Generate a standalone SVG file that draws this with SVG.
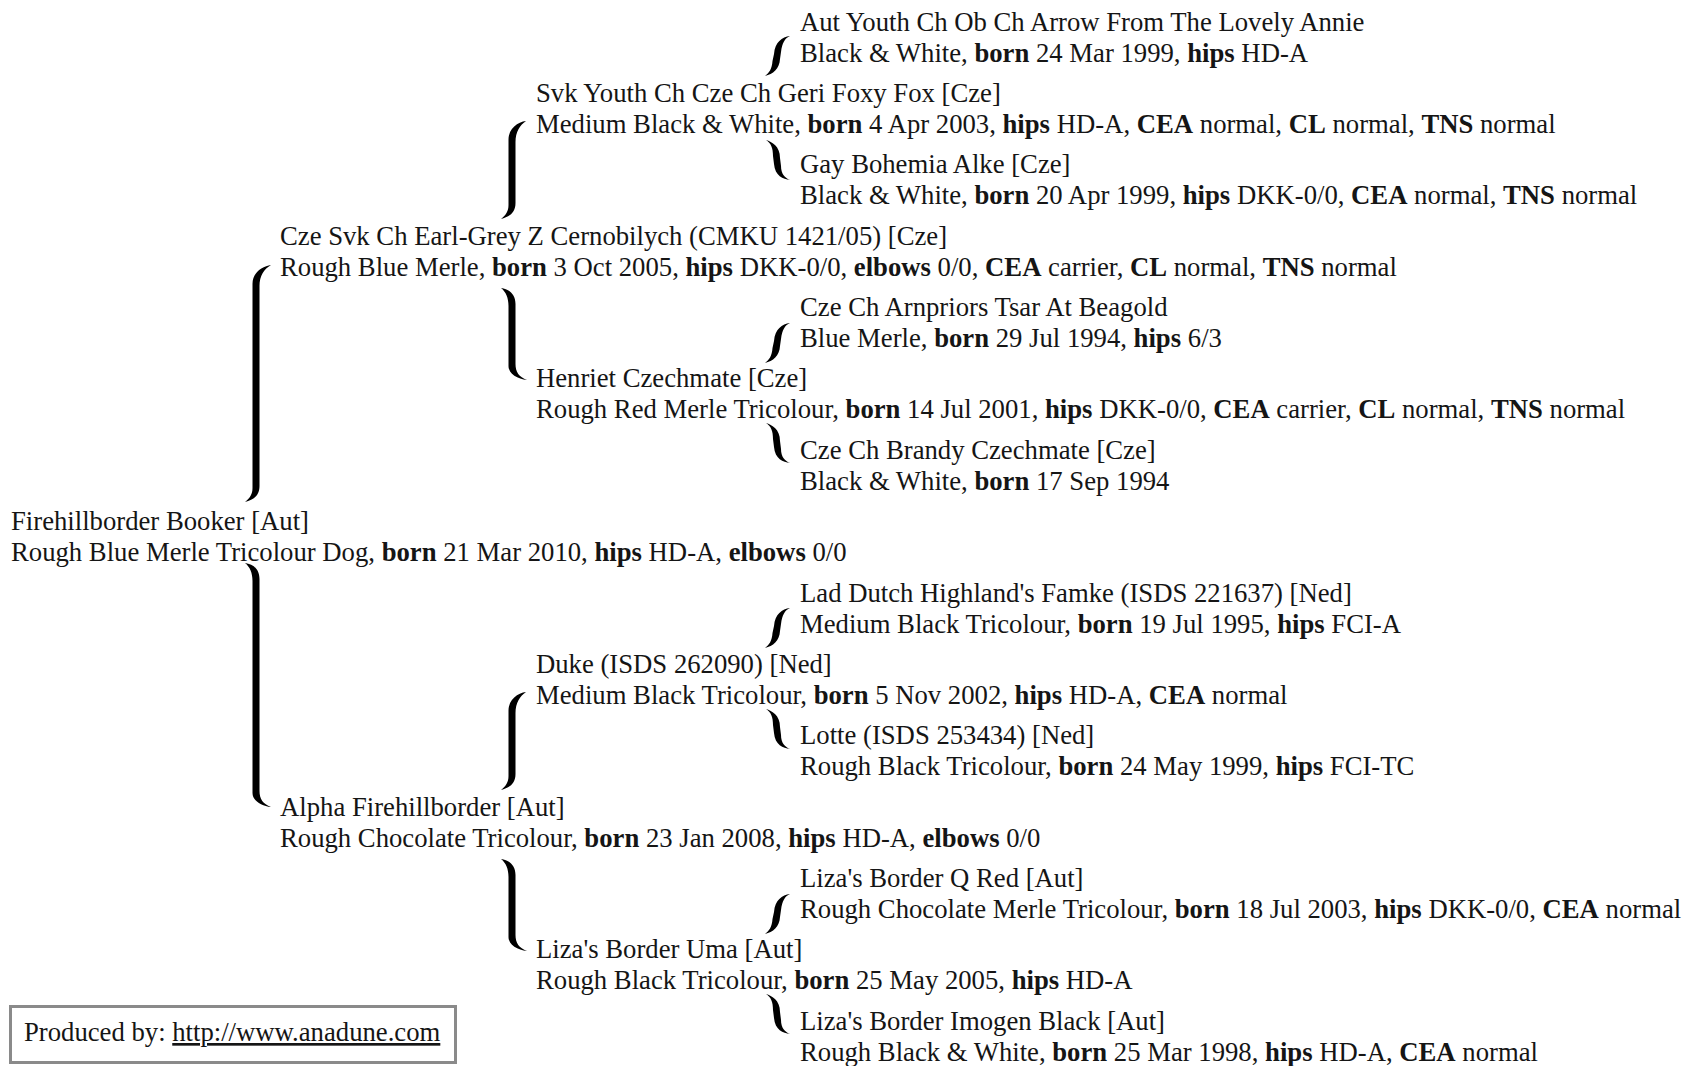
<svg xmlns="http://www.w3.org/2000/svg" width="1683" height="1066" viewBox="0 0 1683 1066">
<style>
text{font-family:"Liberation Serif","Times New Roman",serif;font-size:26.7px;fill:#151515}
.b{font-weight:bold}
.br{fill:#000}
.u{text-decoration:underline}
</style>
<rect width="1683" height="1066" fill="#fff"/>
<g id="connectors" class="br">
<path d="M271,265 C263,266 252.5,272 252.5,284 L252.5,488 C252.5,494 250,498 245,502 C253,500 259.5,496 259.5,486 L259.5,286 C259.5,276 264,269 271,265Z"/>
<path d="M245,563 C253,564 259.5,569 259.5,579 L259.5,791 C259.5,799 263,804 271,807 C262,806 252.5,801 252.5,793 L252.5,581 C252.5,573 250,567 245,563Z"/>
<path d="M526,121 C518,122 508.5,128 508.5,140 L508.5,205 C508.5,211 506,215 501,219 C509,217 515.5,213 515.5,203 L515.5,142 C515.5,132 520,125 526,121Z"/>
<path d="M501,288 C509,289 515.5,294 515.5,304 L515.5,364 C515.5,372 519,377 527,380 C518,379 508.5,374 508.5,366 L508.5,306 C508.5,298 506,292 501,288Z"/>
<path d="M526,692 C518,693 508.5,699 508.5,711 L508.5,776 C508.5,782 506,786 501,790 C509,788 515.5,784 515.5,774 L515.5,713 C515.5,703 520,696 526,692Z"/>
<path d="M501,859 C509,860 515.5,865 515.5,875 L515.5,935 C515.5,943 519,948 527,951 C518,950 508.5,945 508.5,937 L508.5,877 C508.5,869 506,863 501,859Z"/>
<path d="M790,36 C782,37 775,42 774,54 L772.5,61 C772,69 769,73 765,76 C773,74 779.5,69 780,59 L781,52 C782,43 785,38 790,36Z"/>
<path d="M766,140 C772,142 780,146 780,158 L781,166 C781,174 785,178 790,180 C783,179 775,176 774,164 L773,156 C773,148 771,143 766,140Z"/>
<path d="M790,323 C782,324 775,329 774,341 L772.5,348 C772,356 769,360 765,363 C773,361 779.5,356 780,346 L781,339 C782,330 785,325 790,323Z"/>
<path d="M766,423 C772,425 780,429 780,441 L781,449 C781,457 785,461 790,463 C783,462 775,459 774,447 L773,439 C773,431 771,426 766,423Z"/>
<path d="M790,608 C782,609 775,614 774,626 L772.5,633 C772,641 769,645 765,648 C773,646 779.5,641 780,631 L781,624 C782,615 785,610 790,608Z"/>
<path d="M766,709 C772,711 780,715 780,727 L781,735 C781,743 785,747 790,749 C783,748 775,745 774,733 L773,725 C773,717 771,712 766,709Z"/>
<path d="M790,894 C782,895 775,900 774,912 L772.5,919 C772,927 769,931 765,934 C773,932 779.5,927 780,917 L781,910 C782,901 785,896 790,894Z"/>
<path d="M766,994 C772,996 780,1000 780,1012 L781,1020 C781,1028 785,1032 790,1034 C783,1033 775,1030 774,1018 L773,1010 C773,1002 771,997 766,994Z"/>
</g>
<g id="n0"><text x="800" y="30.5">Aut Youth Ch Ob Ch Arrow From The Lovely Annie</text><text x="800" y="61.5">Black &amp; White, <tspan class="b">born</tspan> 24 Mar 1999, <tspan class="b">hips</tspan> HD-A</text></g>
<g id="n1"><text x="536" y="101.9">Svk Youth Ch Cze Ch Geri Foxy Fox [Cze]</text><text x="536" y="132.9">Medium Black &amp; White, <tspan class="b">born</tspan> 4 Apr 2003, <tspan class="b">hips</tspan> HD-A, <tspan class="b">CEA</tspan> normal, <tspan class="b">CL</tspan> normal, <tspan class="b">TNS</tspan> normal</text></g>
<g id="n2"><text x="800" y="173.2">Gay Bohemia Alke [Cze]</text><text x="800" y="204.2">Black &amp; White, <tspan class="b">born</tspan> 20 Apr 1999, <tspan class="b">hips</tspan> DKK-0/0, <tspan class="b">CEA</tspan> normal, <tspan class="b">TNS</tspan> normal</text></g>
<g id="n3"><text x="280" y="244.6">Cze Svk Ch Earl-Grey Z Cernobilych (CMKU 1421/05) [Cze]</text><text x="280" y="275.6">Rough Blue Merle, <tspan class="b">born</tspan> 3 Oct 2005, <tspan class="b">hips</tspan> DKK-0/0, <tspan class="b">elbows</tspan> 0/0, <tspan class="b">CEA</tspan> carrier, <tspan class="b">CL</tspan> normal, <tspan class="b">TNS</tspan> normal</text></g>
<g id="n4"><text x="800" y="316">Cze Ch Arnpriors Tsar At Beagold</text><text x="800" y="347">Blue Merle, <tspan class="b">born</tspan> 29 Jul 1994, <tspan class="b">hips</tspan> 6/3</text></g>
<g id="n5"><text x="536" y="387.4">Henriet Czechmate [Cze]</text><text x="536" y="418.4">Rough Red Merle Tricolour, <tspan class="b">born</tspan> 14 Jul 2001, <tspan class="b">hips</tspan> DKK-0/0, <tspan class="b">CEA</tspan> carrier, <tspan class="b">CL</tspan> normal, <tspan class="b">TNS</tspan> normal</text></g>
<g id="n6"><text x="800" y="458.7">Cze Ch Brandy Czechmate [Cze]</text><text x="800" y="489.7">Black &amp; White, <tspan class="b">born</tspan> 17 Sep 1994</text></g>
<g id="n7"><text x="11" y="530.1">Firehillborder Booker [Aut]</text><text x="11" y="561.1">Rough Blue Merle Tricolour Dog, <tspan class="b">born</tspan> 21 Mar 2010, <tspan class="b">hips</tspan> HD-A, <tspan class="b">elbows</tspan> 0/0</text></g>
<g id="n8"><text x="800" y="601.5">Lad Dutch Highland's Famke (ISDS 221637) [Ned]</text><text x="800" y="632.5">Medium Black Tricolour, <tspan class="b">born</tspan> 19 Jul 1995, <tspan class="b">hips</tspan> FCI-A</text></g>
<g id="n9"><text x="536" y="672.8">Duke (ISDS 262090) [Ned]</text><text x="536" y="703.8">Medium Black Tricolour, <tspan class="b">born</tspan> 5 Nov 2002, <tspan class="b">hips</tspan> HD-A, <tspan class="b">CEA</tspan> normal</text></g>
<g id="n10"><text x="800" y="744.2">Lotte (ISDS 253434) [Ned]</text><text x="800" y="775.2">Rough Black Tricolour, <tspan class="b">born</tspan> 24 May 1999, <tspan class="b">hips</tspan> FCI-TC</text></g>
<g id="n11"><text x="280" y="815.6">Alpha Firehillborder [Aut]</text><text x="280" y="846.6">Rough Chocolate Tricolour, <tspan class="b">born</tspan> 23 Jan 2008, <tspan class="b">hips</tspan> HD-A, <tspan class="b">elbows</tspan> 0/0</text></g>
<g id="n12"><text x="800" y="886.9">Liza's Border Q Red [Aut]</text><text x="800" y="917.9">Rough Chocolate Merle Tricolour, <tspan class="b">born</tspan> 18 Jul 2003, <tspan class="b">hips</tspan> DKK-0/0, <tspan class="b">CEA</tspan> normal</text></g>
<g id="n13"><text x="536" y="958.3">Liza's Border Uma [Aut]</text><text x="536" y="989.3">Rough Black Tricolour, <tspan class="b">born</tspan> 25 May 2005, <tspan class="b">hips</tspan> HD-A</text></g>
<g id="n14"><text x="800" y="1029.7">Liza's Border Imogen Black [Aut]</text><text x="800" y="1060.7">Rough Black &amp; White, <tspan class="b">born</tspan> 25 Mar 1998, <tspan class="b">hips</tspan> HD-A, <tspan class="b">CEA</tspan> normal</text></g>
<g id="footer"><rect x="10.5" y="1006.5" width="445" height="56" fill="none" stroke="#8a8a8a" stroke-width="3"/><text x="24" y="1041">Produced by: <tspan class="u">http://www.anadune.com</tspan></text></g>
</svg>
